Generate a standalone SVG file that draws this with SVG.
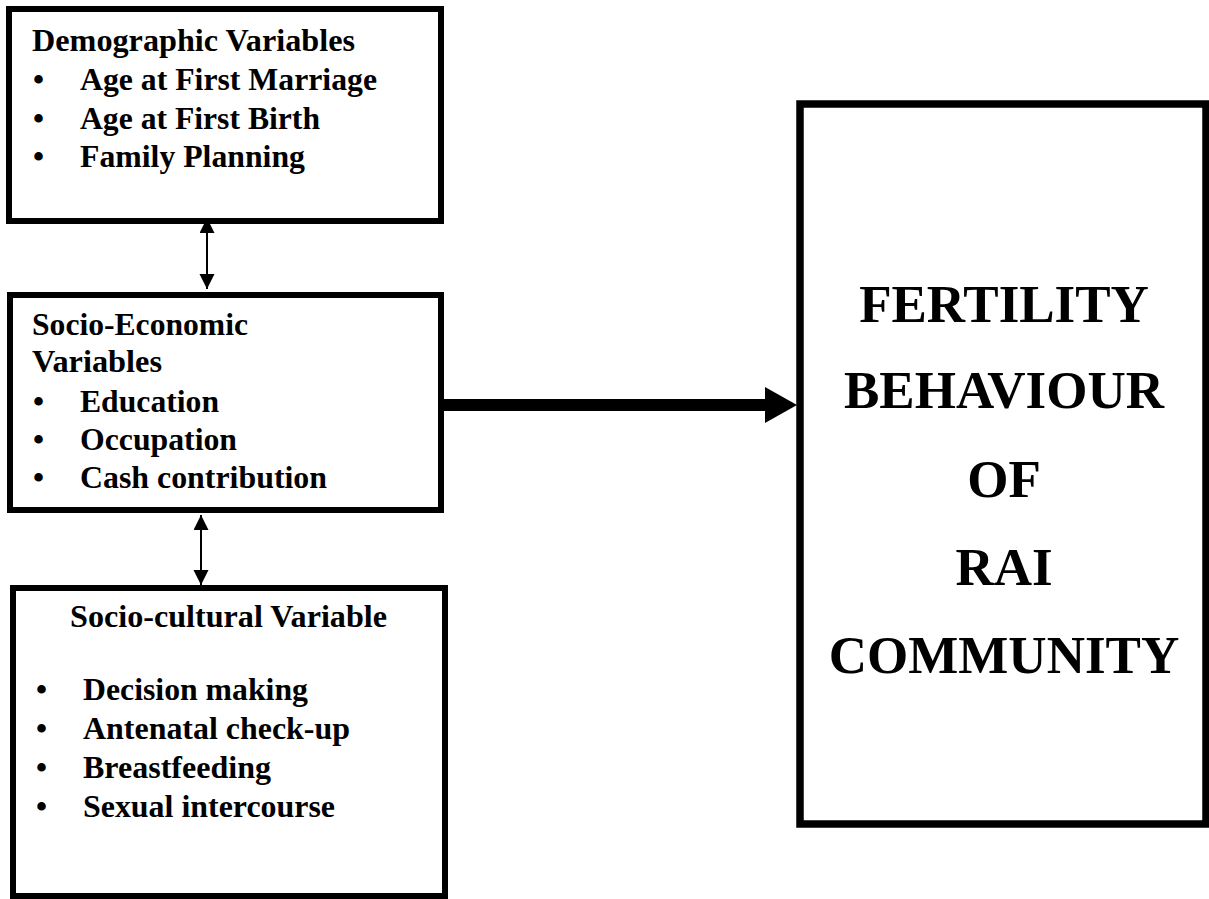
<svg xmlns="http://www.w3.org/2000/svg" width="1209" height="899" viewBox="0 0 1209 899">
<style>
.box{fill:#fff;stroke:#000;stroke-width:6}
.big{fill:#fff;stroke:#000;stroke-width:7.5}
text{font-family:"Liberation Serif","Times New Roman",serif;font-weight:bold;fill:#000}
.t{font-size:31.5px}
.b{font-size:31.5px}
.h{font-size:53px;text-anchor:middle}
.thin{stroke:#000;stroke-width:2;fill:none}
</style>
<defs>
<marker id="ah" markerUnits="userSpaceOnUse" markerWidth="16" markerHeight="16" viewBox="0 0 16 16" refX="15" refY="7.5" orient="auto-start-reverse">
<path d="M0,0 L15,7.5 L0,15 z" fill="#000"/>
</marker>
</defs>
<rect width="1209" height="899" fill="#fff"/>
<g id="demographic">
<rect class="box" x="9" y="9" width="432" height="212"/>
<text class="t" x="32" y="51" textLength="323" lengthAdjust="spacingAndGlyphs">Demographic Variables</text>
<text class="b" x="33" y="90">•</text>
<text class="t" x="80" y="90" textLength="297" lengthAdjust="spacingAndGlyphs">Age at First Marriage</text>
<text class="b" x="33" y="128.5">•</text>
<text class="t" x="80" y="128.5" textLength="240" lengthAdjust="spacingAndGlyphs">Age at First Birth</text>
<text class="b" x="33" y="167">•</text>
<text class="t" x="80" y="167" textLength="225" lengthAdjust="spacingAndGlyphs">Family Planning</text>
</g>
<g id="socioeconomic">
<rect class="box" x="10" y="295" width="431" height="215"/>
<text class="t" x="32" y="335" textLength="216" lengthAdjust="spacingAndGlyphs">Socio-Economic</text>
<text class="t" x="32" y="372" textLength="130" lengthAdjust="spacingAndGlyphs">Variables</text>
<text class="b" x="33" y="412">•</text>
<text class="t" x="80" y="412" textLength="139" lengthAdjust="spacingAndGlyphs">Education</text>
<text class="b" x="33" y="450">•</text>
<text class="t" x="80" y="450" textLength="157" lengthAdjust="spacingAndGlyphs">Occupation</text>
<text class="b" x="33" y="488">•</text>
<text class="t" x="80" y="488" textLength="247" lengthAdjust="spacingAndGlyphs">Cash contribution</text>
</g>
<g id="sociocultural">
<rect class="box" x="13" y="588" width="432" height="308"/>
<text class="t" x="70" y="627" textLength="317" lengthAdjust="spacingAndGlyphs">Socio-cultural Variable</text>
<text class="b" x="36" y="700">•</text>
<text class="t" x="83" y="700" textLength="225" lengthAdjust="spacingAndGlyphs">Decision making</text>
<text class="b" x="36" y="739">•</text>
<text class="t" x="83" y="739" textLength="267" lengthAdjust="spacingAndGlyphs">Antenatal check-up</text>
<text class="b" x="36" y="778">•</text>
<text class="t" x="83" y="778" textLength="188" lengthAdjust="spacingAndGlyphs">Breastfeeding</text>
<text class="b" x="36" y="817">•</text>
<text class="t" x="83" y="817" textLength="252" lengthAdjust="spacingAndGlyphs">Sexual intercourse</text>
</g>
<g id="fertility">
<rect class="big" x="800" y="104" width="406" height="720"/>
<text class="h" x="1004" y="322">FERTILITY</text>
<text class="h" x="1004" y="408">BEHAVIOUR</text>
<text class="h" x="1004" y="497">OF</text>
<text class="h" x="1004" y="585">RAI</text>
<text class="h" x="1004" y="673">COMMUNITY</text>
</g>
<g id="connectors">
<line class="thin" x1="207" y1="218" x2="207" y2="289" marker-start="url(#ah)" marker-end="url(#ah)"/>
<line class="thin" x1="201" y1="515" x2="201" y2="585" marker-start="url(#ah)" marker-end="url(#ah)"/>
<line x1="443" y1="405" x2="768" y2="405" stroke="#000" stroke-width="12"/>
<polygon points="765,387 797,405 765,423" fill="#000"/>
</g>
</svg>
